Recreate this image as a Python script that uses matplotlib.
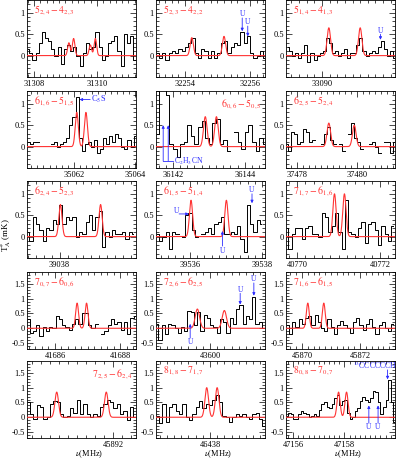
import numpy as np
import matplotlib
matplotlib.use("Agg")
import matplotlib.pyplot as plt
from matplotlib.ticker import MultipleLocator, FixedLocator, FuncFormatter

plt.rcParams['font.family'] = ['Liberation Serif', 'DejaVu Serif']
plt.rcParams['mathtext.fontset'] = 'stix'

RED = "#ff3333"
BLUE = "#2b2bff"

# transition labels, one per panel
transitions = [
    r"$5_{2,4}-4_{2,3}$", r"$5_{2,3}-4_{2,2}$", r"$5_{1,4}-4_{1,3}$",
    r"$6_{1,6}-5_{1,5}$", r"$6_{0,6}-5_{0,5}$", r"$6_{2,5}-5_{2,4}$",
    r"$6_{2,4}-5_{2,3}$", r"$6_{1,5}-5_{1,4}$", r"$7_{1,7}-6_{1,6}$",
    r"$7_{0,7}-6_{0,6}$", r"$7_{2,6}-6_{2,5}$", r"$7_{1,6}-6_{1,5}$",
    r"$7_{2,5}-6_{2,4}$", r"$8_{1,8}-7_{1,7}$", r"$8_{0,8}-7_{0,7}$",
]

# frequency window of each panel (MHz)
x_lo = [31307.78, 32253.11, 33089.06, 35060.46, 36141.53,
        37477.63, 39037.18, 39535.06, 40769.73, 41685.14,
        43598.50, 45869.45, 45890.09, 46436.50, 47155.72]
x_hi = [31311.24, 32256.46, 33091.91, 35064.03, 36144.56,
        37481.27, 39039.92, 39538.08, 40772.36, 41688.49,
        43601.53, 45873.20, 45892.51, 46439.53, 47159.97]

# observed spectra: first channel frequency, channel width, T*A (mK)
chan_start = [31307.8, 32253.15, 33089.1, 35060.5, 36141.55,
              37477.65, 39037.2, 39535.1, 40769.75, 41685.17,
              43598.52, 45869.5, 45890.12, 46436.54, 47155.75]
chan_width = [0.1, 0.1, 0.08, 0.1, 0.1,
              0.1, 0.083, 0.09, 0.08, 0.1,
              0.09, 0.11, 0.074, 0.0926, 0.1]
nan = np.nan
spec1 = [0.15, 0.05, -0.1, 0.05, 0.3, 0.55, 0.4, 0.35, 0.15, 0.0, 0.2, -0.2, 0.15,
         0.25, 0.1, 0.2, 0.0, -0.25, 0.05, 0.3, 0.15, 0.2, 0.55, 0.2, -0.1, 0.0,
         0.3, 0.35, 0.45, 0.1, -0.25, 0.5, 0.3, 0.45, -0.1]
spec2 = [0.05, -0.05, 0.05, -0.1, 0.05, 0.1, 0.05, 0.15, 0.1, 0.2, 0.3, 0.4, 0.05,
         -0.05, 0.15, 0.1, -0.05, 0.1, -0.05, 0.05, 0.3, 0.35, 0.05, 0.2, 0.3, 0.25,
         0.55, 0.3, 0.45, 0.05, -0.05, 0.0, 0.1, -0.05]
spec3 = [0.2, 0.1, 0.0, 0.05, -0.05, 0.05, 0.25, -0.15, 0.05, -0.1, 0.0, 0.05, 0.1,
         0.4, 0.3, 0.05, 0.1, 0.0, 0.05, 0.15, -0.05, 0.05, 0.05, 0.25, 0.4, 0.1,
         0.0, 0.05, 0.1, 0.05, 0.2, 0.35, 0.15, 0.0, 0.1, -0.05]
spec4 = [0.1, 0.05, 0.1, 0.1, nan, nan, nan, nan, 0.05, 0.1, 0.0, 0.05, 0.1, 0.2,
         0.5, 0.7, 1.15, 0.2, -0.1, 0.05, 0.1, 0.0, 0.15, -0.15, -0.05, 0.2, 0.05,
         0.25, 0.1, 0.3, 0.2, 0.0, -0.05, 0.15, 0.0, 0.25]
spec5 = [0.3, 1.5, 1.6, 1.2, 0.05, -0.05, -0.25, 0.05, 0.1, 0.5, 0.25, 0.05, 0.45,
         0.6, 0.2, 0.05, 0.55, 0.65, 0.05, 0.15, -0.1, nan, 0.35, 0.1, -0.05, 0.35,
         0.5, 0.1, -0.1, 0.2, 0.05]
spec6 = [0.05, -0.1, 0.35, 0.3, 0.05, 0.1, 0.4, 0.35, 0.1, 0.15, nan, nan, 0.05,
         0.3, 0.45, 0.15, 0.05, nan, 0.05, -0.1, nan, 0.3, 0.55, 0.2, 0.1, -0.05,
         nan, nan, 0.05, 0.1, 0.0, -0.15, nan, 0.1, 0.1, -0.15, 0.1]
spec7 = [0.1, -0.1, 0.45, 0.3, 0.15, -0.1, 0.2, 0.15, 0.4, 0.3, 0.75, 0.3, 0.45,
         0.4, 0.45, 0.0, 0.1, 0.05, 0.35, 0.5, 0.15, 0.45, 0.6, -0.25, 0.1, 0.0,
         0.15, 0.05, 0.05, 0.1, -0.05, 0.1, 0.05]
spec8 = [0.05, -0.1, 0.0, 0.1, -0.3, 0.1, 0.05, nan, 0.0, 0.5, 0.55, 0.15, 0.0,
         nan, 0.05, 0.1, 0.2, 0.05, 0.3, 0.35, 0.45, 0.05, 0.05, 0.1, 0.05, 0.25,
         -0.05, -0.35, 0.75, 0.3, 0.1, 0.4, 0.3]
spec9 = [0.2, -0.3, 0.05, 0.2, 0.2, -0.05, 0.2, 0.25, 0.05, 0.05, 0.0, 0.55, 0.45,
         0.1, 0.25, 0.55, 0.1, -0.3, 0.85, 0.1, 0.05, 0.0, 0.2, 0.35, -0.15, 0.3,
         0.35, 0.15, -0.2, 0.25, 0.05, -0.1, 0.25]
spec10 = [0.3, -0.15, -0.1, 0.1, -0.25, 0.05, -0.1, 0.05, 0.0, 0.4, 0.3, 0.1, 0.05,
          -0.05, 0.15, 0.3, 0.15, 0.5, 0.5, 0.1, 0.0, 0.15, nan, -0.2, -0.1, 0.1,
          0.3, 0.15, 0.2, -0.05, 0.2, -0.2, 0.35, 0.4]
spec11 = [0.15, -0.4, 0.1, -0.2, 0.15, 0.1, 0.0, -0.15, 0.05, -0.1, 0.6, 0.55, 0.1,
          0.55, -0.1, 0.45, 0.35, 0.1, 0.05, -0.15, 0.3, 0.2, -0.15, 0.35, 0.15,
          0.65, 0.8, 0.15, 0.4, 0.3, 1.05, 0.15, 0.2, 0.0]
spec12 = [0.1, -0.2, 0.2, 0.05, 0.3, 0.15, 0.35, 0.4, 0.1, 0.45, 0.2, 0.0, -0.1,
          0.3, 0.05, -0.2, 0.1, 0.25, 0.1, 0.0, -0.15, 0.2, 0.35, 0.1, -0.05, 0.15,
          0.3, 0.05, -0.2, 0.1, 0.2, 0.0, -0.1, 0.15]
spec13 = [0.5, 0.1, -0.05, 0.4, 0.35, -0.05, 0.0, 0.45, 0.55, 0.5, 0.1, 0.0, 0.05,
          0.3, 0.15, 0.6, 0.1, 0.45, 0.1, 0.0, 0.1, 0.05, 0.35, 0.45, 0.6, 0.5, 0.3,
          0.45, 0.1, 0.2, -0.1, 0.35, 0.0]
spec14 = [0.05, -0.2, 0.45, -0.15, 0.35, 0.45, 0.2, 0.1, 0.45, 0.0, -0.1, 0.1, 0.35,
          0.55, 0.3, 0.45, 0.4, 0.6, 0.75, 0.5, 0.05, 0.0, -0.15, 0.0, 0.1, 0.05,
          0.1, 0.0, -0.05, 0.1, 0.15, -0.05, -0.3]
spec15 = [0.05, 0.15, 0.1, -0.05, -0.05, 0.1, 0.2, 0.15, 0.1, 0.0, 0.05, 0.1, 0.05,
          0.25, 0.45, 0.5, 0.35, 0.3, 0.45, 0.65, 0.75, 0.4, 0.55, 0.6, 0.15, -0.05,
          0.0, 0.2, 0.3, 0.55, 0.7, 0.6, 0.5, 0.65, 0.9, 0.85, 0.5, 0.1, 0.35, 0.6,
          1.25, 0.5, -0.15]
spectra = [spec1, spec2, spec3, spec4, spec5, spec6, spec7, spec8, spec9, spec10,
           spec11, spec12, spec13, spec14, spec15]

# model lines: rest frequencies (MHz), peak T*A (mK), gaussian sigma (MHz)
line_nu = [[31309.11, 31309.26, 31309.79, 31309.95], [32254.21, 32255.20],
           [33090.18, 33091.00], [35062.09, 35062.39], [36142.90, 36143.21],
           [37479.06, 37479.91], [39038.02, 39039.03], [39536.03, 39537.01],
           [40770.90, 40771.14], [41686.68, 41686.97], [43599.65, 43600.40],
           [45870.20, 45870.75], [45890.75, 45891.85], [46437.91, 46438.20],
           [47157.77, 47158.08]]
line_amp = [[0.3, 0.4, 0.25, 0.4], [0.42, 0.45], [0.65, 0.65], [0.8, 0.8],
            [0.7, 0.7], [0.55, 0.5], [0.75, 0.75], [0.85, 0.85], [1.0, 1.0],
            [0.85, 0.85], [0.65, 0.6], [0.85, 0.85], [0.85, 0.85], [1.0, 1.0],
            [0.85, 0.85]]
line_sig = [0.04, 0.05, 0.045, 0.05, 0.05, 0.06, 0.04, 0.045, 0.04, 0.045,
            0.06, 0.05, 0.04, 0.05, 0.06]

fig = plt.figure(figsize=(3.96, 4.59), dpi=100)
col_left = [27, 156, 286]
row_top = [0, 91, 181, 272, 361]
W, H = 109, 77


def fmt(v, pos):
    if abs(v) < 1e-9:
        return "0"
    return "%g" % v


def uarrow(ax, x, ytxt, y0, y1):
    ax.text(x, ytxt, "U", color=BLUE, fontsize=5.5, ha='center', va='center')
    ax.annotate("", xy=(x, y1), xytext=(x, y0),
                arrowprops=dict(arrowstyle="-|>", color=BLUE, lw=0.6,
                                mutation_scale=4, shrinkA=0, shrinkB=0))


axes = []
for k in range(15):
    r, c = divmod(k, 3)
    ax = fig.add_axes([col_left[c] / 396, 1 - (row_top[r] + H) / 459, W / 396, H / 459])
    axes.append(ax)
    vals = np.array(spectra[k], dtype=float)
    nu = chan_start[k] + chan_width[k] * np.arange(len(vals))
    ax.step(nu, vals, where='mid', color='k', lw=0.7, zorder=2)

    grid = np.linspace(x_lo[k], x_hi[k], 800)
    model = np.zeros_like(grid)
    for c0, a in zip(line_nu[k], line_amp[k]):
        model += a * np.exp(-0.5 * ((grid - c0) / line_sig[k]) ** 2)
    ax.plot(grid, model, color=RED, lw=0.8, zorder=3)

    ax.set_xlim(x_lo[k], x_hi[k])
    if r < 3:
        ax.set_ylim(-0.5, 1.3)
        ax.yaxis.set_major_locator(FixedLocator([0, 0.5, 1]))
    else:
        ax.set_ylim(-0.7, 1.9)
        ax.yaxis.set_major_locator(FixedLocator([-0.5, 0, 0.5, 1, 1.5]))
    ax.yaxis.set_minor_locator(MultipleLocator(0.1))
    ax.xaxis.set_major_locator(MultipleLocator(2))
    ax.xaxis.set_minor_locator(MultipleLocator(0.2))
    ax.xaxis.set_major_formatter(FuncFormatter(lambda v, p: "%d" % round(v)))
    ax.yaxis.set_major_formatter(FuncFormatter(fmt))
    ax.tick_params(which='both', direction='in', top=True, right=True,
                   labelsize=6, pad=1.5, width=0.5)
    ax.tick_params(axis='x', which='major', pad=2.5)
    ax.tick_params(which='major', length=4)
    ax.tick_params(which='minor', length=2)
    for s in ax.spines.values():
        s.set_linewidth(0.6)

    if k in (4, 12):
        ax.text(0.97, 0.83, transitions[k], transform=ax.transAxes, color=RED,
                fontsize=7, ha='right', va='center')
    else:
        ax.text(0.06, 0.87, transitions[k], transform=ax.transAxes, color=RED,
                fontsize=7, ha='left', va='center')
    if r == 4:
        ax.text(0.57, -0.205, r"$\nu$(MHz)", transform=ax.transAxes,
                fontsize=6, ha='center', va='center')

# unidentified features and other species
uarrow(axes[1], 32255.76, 0.97, 0.88, 0.57)
uarrow(axes[1], 32255.93, 0.78, 0.69, 0.45)
uarrow(axes[2], 33091.53, 0.58, 0.5, 0.37)

axes[3].text(35062.56, 1.1, r"C$_5$S", color=BLUE, fontsize=6, ha='left', va='center')
axes[3].annotate("", xy=(35062.18, 1.1), xytext=(35062.53, 1.1),
                 arrowprops=dict(arrowstyle="-|>", color=BLUE, lw=0.6,
                                 mutation_scale=4, shrinkA=0, shrinkB=0))

for xv in (36141.73, 36141.87):
    axes[4].annotate("", xy=(xv, 0.5), xytext=(xv, -0.34),
                     arrowprops=dict(arrowstyle="-|>", color=BLUE, lw=0.6,
                                     mutation_scale=4, shrinkA=0, shrinkB=0))
axes[4].plot([36141.73, 36142.0], [-0.34, -0.34], color=BLUE, lw=0.6)
axes[4].text(36142.02, -0.34, r"C$_2$H$_3$CN", color=BLUE, fontsize=5.5,
             ha='left', va='center', zorder=5)

axes[7].text(39535.62, 0.6, "U", color=BLUE, fontsize=5.5, ha='center', va='center')
axes[7].annotate("", xy=(39535.97, 0.53), xytext=(39535.7, 0.53),
                 arrowprops=dict(arrowstyle="-|>", color=BLUE, lw=0.6,
                                 mutation_scale=4, shrinkA=0, shrinkB=0))
uarrow(axes[7], 39536.9, -0.33, -0.22, 0.13)
uarrow(axes[7], 39537.72, 1.1, 1.0, 0.78)

uarrow(axes[10], 43599.45, -0.45, -0.33, 0.15)
uarrow(axes[10], 43600.84, 1.3, 1.18, 0.8)
uarrow(axes[10], 43601.22, 1.65, 1.53, 1.1)

uarrow(axes[14], 47158.95, -0.32, -0.2, 0.4)
uarrow(axes[14], 47159.31, -0.32, -0.2, 0.4)
axes[14].text(47159.2, 1.74, r"$^{13}$CCCCCCH", color=BLUE, fontsize=5.5,
              ha='center', va='center')
axes[14].annotate("", xy=(47159.68, 1.28), xytext=(47159.68, 1.6),
                  arrowprops=dict(arrowstyle="-|>", color=BLUE, lw=0.6,
                                  mutation_scale=4, shrinkA=0, shrinkB=0))

fig.text(6 / 396, 1 - 235 / 459, r"T$_{\rm A}^{*}$ (mK)", rotation=90,
         fontsize=6.5, ha='center', va='center')

fig.savefig("out.png", dpi=100)
